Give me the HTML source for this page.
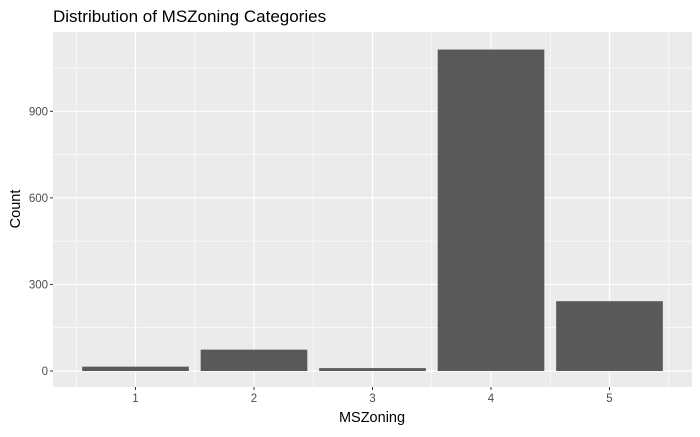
<!DOCTYPE html>
<html><head><meta charset="utf-8"><style>
body{margin:0;background:#fff;font-family:"Liberation Sans",sans-serif}
</style></head><body>
<svg id="chart" width="700" height="432" xmlns="http://www.w3.org/2000/svg">
<text x="53" y="22" font-size="17" fill="#000">Distribution of MSZoning Categories</text>
<rect x="53" y="32" width="639" height="355" fill="#EBEBEB"/>
<g id="grid"></g><g id="bars"></g><g id="axes"></g>
<text x="372" y="422" font-size="14.5" text-anchor="middle" fill="#000">MSZoning</text>
<text transform="translate(20,209) rotate(-90)" font-size="14.5" text-anchor="middle" fill="#000">Count</text>
</svg>
<script>
const categories = ["1","2","3","4","5"];
const counts = [15, 74, 10, 1114, 242];
const yTicks = [0, 300, 600, 900];
const yMinor = [150, 450, 750, 1050];
const NS="http://www.w3.org/2000/svg";
const panelLeft=53,panelRight=692,panelTop=32,panelBottom=387;
const zeroY=371, pxPer=259.7/900;
const unit=118.5, firstC=135.5;
function yPos(v){return zeroY - v*pxPer;}
function xPos(i){return firstC + i*unit;}
function mk(tag,attrs,parent){const e=document.createElementNS(NS,tag);for(const k in attrs)e.setAttribute(k,attrs[k]);document.getElementById(parent).appendChild(e);return e;}
yMinor.forEach(v=>{const l=mk('line',{x1:panelLeft,x2:panelRight,y1:yPos(v),y2:yPos(v),stroke:'#fff','stroke-width':0.6},'grid');

});
for(let i=-1;i<categories.length;i++){const xm=xPos(i)+unit/2;const l=mk('line',{x1:xm,x2:xm,y1:panelTop,y2:panelBottom,stroke:'#fff','stroke-width':0.6},'grid');

}
yTicks.forEach(v=>{const l=mk('line',{x1:panelLeft,x2:panelRight,y1:yPos(v),y2:yPos(v),stroke:'#fff','stroke-width':1.2},'grid');


const t=mk('line',{x1:panelLeft-3,x2:panelLeft,y1:yPos(v),y2:yPos(v),stroke:'#333','stroke-width':1},'axes');


const tx=mk('text',{x:panelLeft-5,y:yPos(v)+4,'font-size':11.5,'text-anchor':'end',fill:'#4D4D4D'},'axes');tx.textContent=v;

});
categories.forEach((c,i)=>{const l=mk('line',{x1:xPos(i),x2:xPos(i),y1:panelTop,y2:panelBottom,stroke:'#fff','stroke-width':1.2},'grid');


const bw=unit*0.9;
const b=mk('rect',{x:xPos(i)-bw/2,y:yPos(counts[i]),width:bw,height:yPos(0)-yPos(counts[i]),fill:'#595959'},'bars');


const t=mk('line',{x1:xPos(i),x2:xPos(i),y1:panelBottom,y2:panelBottom+3,stroke:'#333','stroke-width':1},'axes');


const tx=mk('text',{x:xPos(i),y:panelBottom+15,'font-size':11.5,'text-anchor':'middle',fill:'#4D4D4D'},'axes');tx.textContent=c;

});
</script>
</body></html>
